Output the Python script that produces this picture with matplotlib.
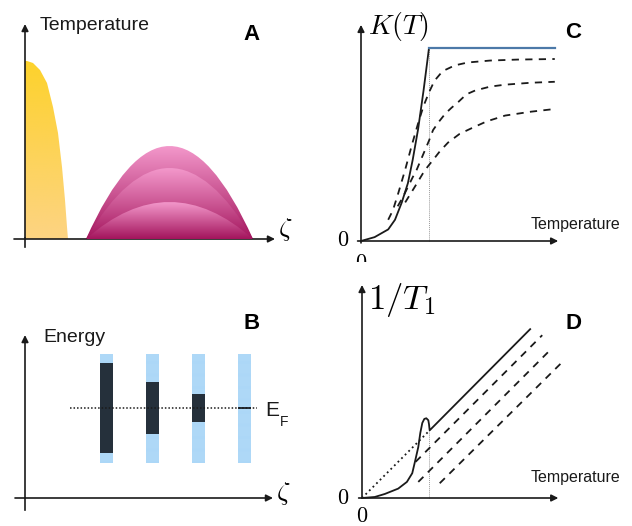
import numpy as np
import matplotlib
matplotlib.use("Agg")
import matplotlib.pyplot as plt
from matplotlib.path import Path
from matplotlib.patches import PathPatch, Polygon
from matplotlib.colors import LinearSegmentedColormap

plt.rcParams['font.family'] = ['Liberation Sans', 'DejaVu Sans']
plt.rcParams['mathtext.fontset'] = 'cm'
plt.rcParams['hatch.linewidth'] = 0.5

# ---- panel A: temperature profiles along zeta
yellow_zeta = [0, 0.02, 0.08, 0.15, 0.22, 0.28, 0.33, 0.37, 0.40, 0.42, 0.43]
yellow_temp = [1.78, 1.78, 1.76, 1.69, 1.56, 1.32, 1.06, 0.72, 0.39, 0.12, 0]
dome_left = 0.61
dome_right = 2.28
dome_peaks = [0.93, 0.71, 0.37]

# ---- panel B: bands (energy relative to E_F)
bar_zeta = [0.82, 1.27, 1.73, 2.19]
band_half = [1.0, 1.0, 1.0, 1.0]
filled_half = [0.82, 0.47, 0.25, 0.02]
ef_zeta = [0.45, 2.32]
axis_energy = -1.65

# ---- panel C: K(T), T in units of Tc
kc_T = [0, 0.2, 0.4, 0.5, 0.6, 0.69, 0.76, 0.84, 0.92, 1.0]
kc_K = [0, 0.02, 0.06, 0.11, 0.2, 0.30, 0.42, 0.58, 0.78, 1.0]
kc_flat_T = [1.0, 2.85]
kc_flat_K = [1.0, 1.0]
kd1_T = [0.40, 0.47, 0.55, 0.65, 0.75, 0.84, 0.92, 1.0, 1.08, 1.2, 1.38, 1.57, 1.9, 2.3, 2.85]
kd1_K = [0.11, 0.16, 0.25, 0.37, 0.50, 0.61, 0.70, 0.77, 0.83, 0.88, 0.91, 0.925, 0.935, 0.94, 0.943]
kd2_T = [0.54, 0.62, 0.69, 0.76, 0.82, 0.88, 0.94, 1.0, 1.06, 1.15, 1.24, 1.33, 1.43, 1.55, 1.68, 1.9, 2.12, 2.5, 2.85]
kd2_K = [0.18, 0.23, 0.28, 0.33, 0.37, 0.42, 0.47, 0.52, 0.575, 0.62, 0.66, 0.69, 0.72, 0.76, 0.78, 0.80, 0.81, 0.82, 0.825]
kd3_T = [0.65, 0.72, 0.79, 0.85, 0.91, 0.98, 1.06, 1.16, 1.28, 1.45, 1.63, 1.85, 2.12, 2.5, 2.85]
kd3_K = [0.20, 0.24, 0.28, 0.315, 0.35, 0.385, 0.42, 0.465, 0.51, 0.555, 0.585, 0.62, 0.65, 0.67, 0.684]

# ---- panel D: 1/T1
r_T = [0, 0.19, 0.34, 0.54, 0.67, 0.75, 0.79, 0.84, 0.87, 0.90, 0.93, 0.96, 0.99, 1.0, 1.01, 2.51]
r_y = [0, 0.015, 0.06, 0.14, 0.24, 0.37, 0.54, 0.76, 0.97, 1.12, 1.18, 1.19, 1.16, 1.10, 1.01, 2.52]
r_dot_T = [0, 1.0]
r_dot_y = [0, 1.0]
rd_T = [[0.80, 2.69], [0.84, 2.84], [1.16, 2.99]]
rd_y = [[0.54, 2.43], [0.24, 2.24], [0.22, 2.03]]

W, H = 632, 526
fig = plt.figure(figsize=(W / 100, H / 100), dpi=100)
INK = '#1a1a1a'


def panel(ox, oy, sx, sy, x0, y0, xr, yr):
    left = ox + (xr[0] - x0) * sx
    right = ox + (xr[1] - x0) * sx
    top = oy - (yr[1] - y0) * sy
    bottom = oy - (yr[0] - y0) * sy
    ax = fig.add_axes([left / W, 1 - bottom / H, (right - left) / W, (bottom - top) / H])
    ax.set_xlim(xr)
    ax.set_ylim(yr)
    ax.axis('off')
    return ax


def arrow(ax, start, tip):
    ax.annotate('', xy=tip, xytext=start,
                arrowprops=dict(arrowstyle='-|>', lw=1.2, color=INK,
                                mutation_scale=10, shrinkA=0, shrinkB=0),
                annotation_clip=False)


def gradient(ax, patch, top, bottom, ylo, yhi, xlo, xhi, z):
    cmap = LinearSegmentedColormap.from_list('g', [bottom, top])
    im = ax.imshow(np.linspace(0, 1, 256).reshape(-1, 1), cmap=cmap, origin='lower',
                   extent=[xlo, xhi, ylo, yhi], aspect='auto', zorder=z)
    ax.add_patch(patch)
    im.set_clip_path(patch)


# ===== A =====
axA = panel(25, 239, 100, 100, 0, 0, (-0.25, 2.95), (-0.2, 2.3))
ypts = list(zip(yellow_zeta, yellow_temp)) + [(0, 0)]
ypatch = Polygon(ypts, closed=True, facecolor='none', edgecolor='none')
gradient(axA, ypatch, '#fdd22c', '#fdd483', 0, max(yellow_temp), 0, max(yellow_zeta), 1)
mid = (dome_left + dome_right) / 2
for i, h in enumerate(dome_peaks):
    path = Path([(dome_left, 0), (mid, 2 * h), (dome_right, 0), (dome_left, 0)],
                [Path.MOVETO, Path.CURVE3, Path.CURVE3, Path.CLOSEPOLY])
    p = PathPatch(path, facecolor='none', edgecolor='none')
    gradient(axA, p, '#f398cb', '#a3145c', 0, h, dome_left, dome_right, 2 + i)
axA.set_xlim(-0.25, 2.95)
axA.set_ylim(-0.2, 2.3)
axA.plot([0, 0], [-0.08, 0.01], color=INK, lw=1.2, zorder=10)
arrow(axA, (0, 0), (0, 2.15))
arrow(axA, (-0.11, 0), (2.5, 0))
axA.text(0.15, 2.13, 'Temperature', fontsize=14, ha='left', va='center', color=INK)
axA.text(2.27, 2.04, 'A', fontsize=16, fontweight='bold', ha='center', va='center')
axA.text(2.6, 0.09, r'$\zeta$', fontsize=19, ha='center', va='center')

# ===== B =====
axB = panel(25, 498, 100, 54.5, 0, axis_energy, (-0.25, 2.95), (-2.0, 3.5))
axB.bar(bar_zeta, [2 * b for b in band_half], bottom=[-b for b in band_half], width=0.13,
        color='#9cd0f5', edgecolor='#b4dbf8', linewidth=0, hatch='-' * 18, zorder=2)
axB.bar(bar_zeta, [2 * f for f in filled_half], bottom=[-f for f in filled_half], width=0.13,
        color='#25303b', linewidth=0, zorder=3)
axB.plot(ef_zeta, [0, 0], color=INK, lw=1.1, ls=(0, (1, 1.3)), zorder=4)
axB.plot([0, 0], [axis_energy - 0.22, axis_energy], color=INK, lw=1.2)
arrow(axB, (0, axis_energy), (0, axis_energy + 2.99))
arrow(axB, (-0.10, axis_energy), (2.48, axis_energy))
axB.text(0.18, axis_energy + 2.94, 'Energy', fontsize=14, ha='left', va='center', color=INK)
axB.text(2.27, axis_energy + 3.21, 'B', fontsize=16, fontweight='bold', ha='center', va='center')
axB.text(2.58, axis_energy + 0.09, r'$\zeta$', fontsize=19, ha='center', va='center')
axB.text(2.40, -0.05, 'E', fontsize=15, ha='left', va='center', color=INK)
axB.text(2.55, -0.25, 'F', fontsize=10, ha='left', va='center', color=INK)

# ===== C =====
axC = panel(361, 241, 68, 193, 0, 0, (-0.35, 3.9), (-0.109, 1.25))
axC.plot([1, 1], [0, 1], color='#9a9a9a', lw=0.7, ls=(0, (1, 1)))
axC.plot(kc_T, kc_K, color=INK, lw=1.3)
axC.plot(kc_flat_T, kc_flat_K, color='#4c79a8', lw=1.6)
for t, k in [(kd1_T, kd1_K), (kd2_T, kd2_K), (kd3_T, kd3_K)]:
    axC.plot(t, k, color=INK, lw=1.3, ls=(0, (4, 3.5)))
arrow(axC, (-0.05, 0), (2.90, 0))
arrow(axC, (0, -0.01), (0, 1.12))
axC.text(0.10, 1.11, r'$K(T)$', fontsize=20, ha='left', va='center')
axC.text(3.12, 1.08, 'C', fontsize=16, fontweight='bold', ha='center', va='center')
axC.text(3.81, 0.083, 'Temperature', fontsize=11.5, ha='right', va='center', color=INK)
axC.text(-0.27, 0.0, r'$0$', fontsize=16, ha='center', va='center')
axC.text(0.0, -0.115, r'$0$', fontsize=16, ha='center', va='center', clip_on=True)

# ===== D =====
axD = panel(362, 498, 67, 67, 0, 0, (-0.4, 3.9), (-0.45, 3.4))
axD.plot([1, 1], [0, 1], color='#9a9a9a', lw=0.7, ls=(0, (1, 1)))
axD.plot(r_dot_T, r_dot_y, color=INK, lw=1.3, ls=(0, (1, 1.8)))
axD.plot(r_T, r_y, color=INK, lw=1.3)
for t, y in zip(rd_T, rd_y):
    axD.plot(t, y, color=INK, lw=1.3, ls=(0, (4, 3.5)))
arrow(axD, (-0.05, 0), (2.93, 0))
arrow(axD, (0, 0), (0, 3.18))
axD.text(0.09, 2.96, r'$1/T_1$', fontsize=25, ha='left', va='center')
axD.text(3.15, 2.61, 'D', fontsize=16, fontweight='bold', ha='center', va='center')
axD.text(3.85, 0.30, 'Temperature', fontsize=11.5, ha='right', va='center', color=INK)
axD.text(-0.28, 0.0, r'$0$', fontsize=16, ha='center', va='center')
axD.text(0.0, -0.27, r'$0$', fontsize=16, ha='center', va='center')

fig.savefig('out.png', dpi=100)
